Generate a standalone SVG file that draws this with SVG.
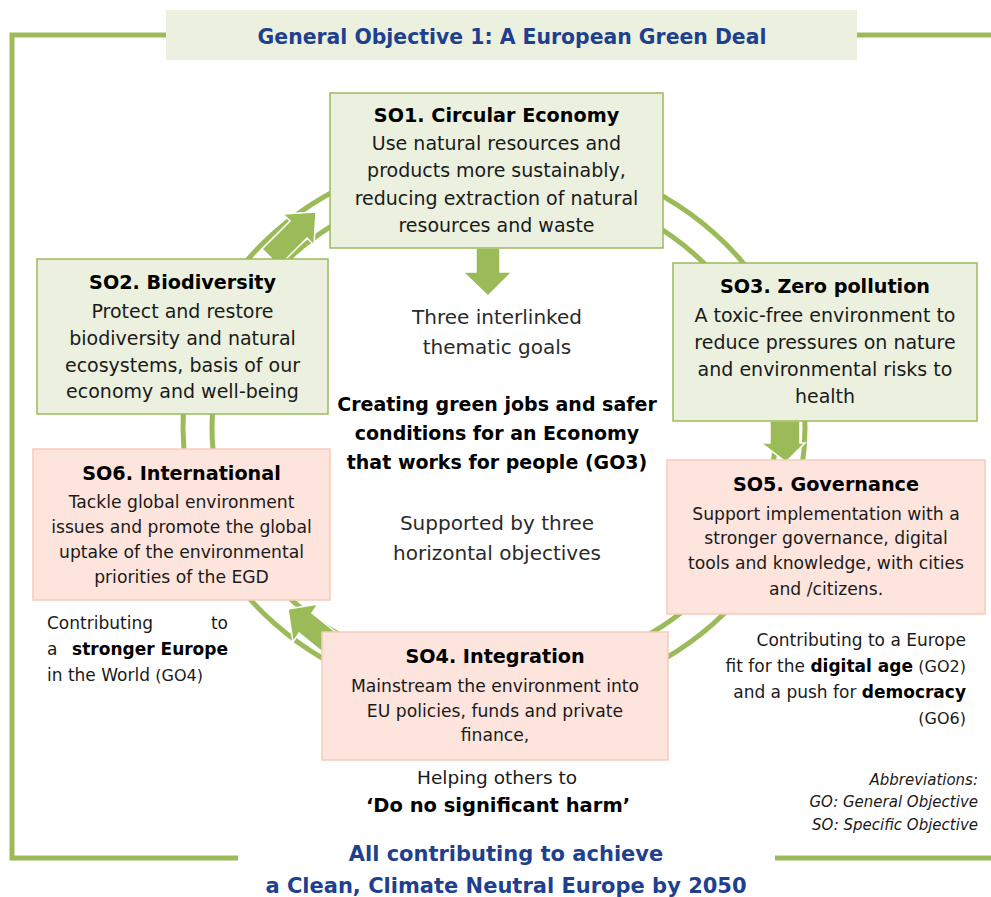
<svg xmlns="http://www.w3.org/2000/svg" width="991" height="897" viewBox="0 0 991 897">
  <style>
    .frame{fill:none;stroke:#9bbb59;stroke-width:5}
    .ring{fill:none;stroke:#9bbb59;stroke-width:5}
    .arrow{fill:#9bbb59;stroke:#fff;stroke-width:1.5;stroke-linejoin:miter}
    .gbox{fill:#ebf1de;stroke:#9bbb59;stroke-width:1.5}
    .pbox{fill:#fde4dc;stroke:#f7cbbb;stroke-width:1.5}
    text{font-family:"DejaVu Sans",sans-serif;fill:#1a1a1a;text-anchor:middle}
    .head{font-weight:bold;font-size:19.2px;fill:#000}
    .body{font-size:19px}
    .small{font-size:17.2px}
    .mid{font-size:20px;fill:#2a2a2a}
    .midb{font-size:19px;font-weight:bold;fill:#000}
    .note{font-size:17px}
    .blue{font-weight:bold;font-size:21px;fill:#1f3f8f}
    .abbr{font-size:15px;font-style:italic;text-anchor:end}
  </style>

  <!-- outer frame -->
  <g id="frame">
    <polyline class="frame" points="166,35 12,35 12,858 238,858"/>
    <line class="frame" x1="857" y1="35" x2="991" y2="35"/>
    <line class="frame" x1="775" y1="858" x2="991" y2="858"/>
  </g>

  <g id="title">
    <rect x="166" y="10" width="691" height="50" fill="#ebf1de"/>
    <text class="blue" x="512" y="44" style="font-size:20.4px">General Objective 1: A European Green Deal</text>
  </g>

  <!-- cycle rings and arrows -->
  <g id="connectors">
    <ellipse class="ring" cx="494" cy="428" rx="311" ry="276"/>
    <ellipse class="ring" cx="494" cy="428" rx="282" ry="247"/>
    <polygon class="arrow" points="476,248 500,248 500,272 512,272 488,296 463,272 476,272"/>
    <polygon class="arrow" points="316,212 314,245 307,238 279,266 262,249 290,221 283,214"/>
    <polygon class="arrow" points="770,421 800,421 800,443 805,443 786,462 761,443 770,443"/>
    <polygon class="arrow" points="288,609 318,604 312,613 343,638 330,658 299,633 293,642"/>
  </g>

  <g id="so1">
    <rect class="gbox" x="330" y="93" width="333" height="155"/>
    <text class="head" x="496.5" y="122">SO1. Circular Economy</text>
    <text class="body" x="496.5" y="150">Use natural resources and</text>
    <text class="body" x="496.5" y="177">products more sustainably,</text>
    <text class="body" x="496.5" y="205">reducing extraction of natural</text>
    <text class="body" x="496.5" y="232">resources and waste</text>
  </g>

  <g id="so2">
    <rect class="gbox" x="37" y="259" width="291" height="155"/>
    <text class="head" x="182.5" y="289">SO2. Biodiversity</text>
    <text class="body" x="182.5" y="318">Protect and restore</text>
    <text class="body" x="182.5" y="345">biodiversity and natural</text>
    <text class="body" x="182.5" y="372">ecosystems, basis of our</text>
    <text class="body" x="182.5" y="398">economy and well-being</text>
  </g>

  <g id="so3">
    <rect class="gbox" x="673" y="263" width="304" height="158"/>
    <text class="head" x="825" y="293">SO3. Zero pollution</text>
    <text class="body" x="825" y="322">A toxic-free environment to</text>
    <text class="body" x="825" y="349">reduce pressures on nature</text>
    <text class="body" x="825" y="376">and environmental risks to</text>
    <text class="body" x="825" y="403">health</text>
  </g>

  <g id="so5">
    <rect class="pbox" x="667" y="460" width="318" height="154"/>
    <text class="head" x="826" y="491">SO5. Governance</text>
    <text class="small" x="826" y="520">Support implementation with a</text>
    <text class="small" x="826" y="544">stronger governance, digital</text>
    <text class="small" x="826" y="569">tools and knowledge, with cities</text>
    <text class="small" x="826" y="595">and /citizens.</text>
  </g>

  <g id="so6">
    <rect class="pbox" x="33" y="449" width="297" height="151"/>
    <text class="head" x="181.5" y="480">SO6. International</text>
    <text class="small" x="181.5" y="508">Tackle global environment</text>
    <text class="small" x="181.5" y="533">issues and promote the global</text>
    <text class="small" x="181.5" y="558">uptake of the environmental</text>
    <text class="small" x="181.5" y="583">priorities of the EGD</text>
  </g>

  <g id="so4">
    <rect class="pbox" x="322" y="632" width="346" height="128"/>
    <text class="head" x="495" y="663">SO4. Integration</text>
    <text class="small" x="495" y="692">Mainstream the environment into</text>
    <text class="small" x="495" y="717">EU policies, funds and private</text>
    <text class="small" x="495" y="741">finance,</text>
  </g>

  <g id="centre">
    <text class="mid" x="497" y="324">Three interlinked</text>
    <text class="mid" x="497" y="354">thematic goals</text>
    <text class="midb" x="497" y="411">Creating green jobs and safer</text>
    <text class="midb" x="497" y="440">conditions for an Economy</text>
    <text class="midb" x="497" y="469">that works for people (GO3)</text>
    <text class="mid" x="497" y="530">Supported by three</text>
    <text class="mid" x="497" y="560">horizontal objectives</text>
  </g>

  <g id="go4-note">
    <text class="note" x="47" y="629" style="text-anchor:start">Contributing</text>
    <text class="note" x="228" y="629" style="text-anchor:end">to</text>
    <text class="note" x="47" y="655" style="text-anchor:start">a</text>
    <text class="note" x="228" y="655" style="text-anchor:end;font-weight:bold;fill:#000">stronger  Europe</text>
    <text class="note" x="47" y="681" style="text-anchor:start">in the World <tspan style="font-size:16px">(GO4)</tspan></text>
  </g>

  <g id="go2-note">
    <text class="note" x="966" y="646" style="text-anchor:end">Contributing to a Europe</text>
    <text class="note" x="966" y="672" style="text-anchor:end">fit for the <tspan font-weight="bold" fill="#000">digital age</tspan> <tspan style="font-size:16px">(GO2)</tspan></text>
    <text class="note" x="966" y="698" style="text-anchor:end">and a push for <tspan font-weight="bold" fill="#000">democracy</tspan></text>
    <text class="note" x="966" y="724" style="text-anchor:end;font-size:16px">(GO6)</text>
  </g>

  <g id="dnsh-note">
    <text x="497" y="784" style="font-size:18.5px">Helping others to</text>
    <text x="498" y="812" style="font-size:19.5px;font-weight:bold;fill:#000">‘Do no significant harm’</text>
  </g>

  <g id="abbreviations">
    <text class="abbr" x="978" y="785">Abbreviations:</text>
    <text class="abbr" x="978" y="807">GO: General Objective</text>
    <text class="abbr" x="978" y="830">SO: Specific Objective</text>
  </g>

  <g id="goal">
    <text class="blue" x="506" y="861">All contributing to achieve</text>
    <text class="blue" x="506" y="893">a Clean, Climate Neutral Europe by 2050</text>
  </g>
</svg>
